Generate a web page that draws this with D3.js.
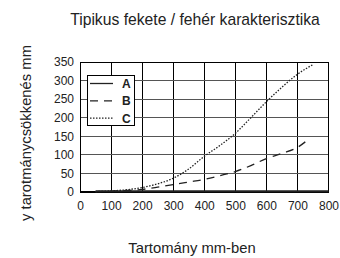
<!DOCTYPE html>
<html><head><meta charset="utf-8">
<script src="https://cdn.jsdelivr.net/npm/d3@7/dist/d3.min.js"></script>
<style>body{margin:0;background:#fff}svg{display:block}</style>
</head><body>
<script>
const title = "Tipikus fekete / fehér karakterisztika";
const xLabel = "Tartomány mm-ben";
const yLabel = "y tarotmánycsökkenés mm";
const xTicks = [0,100,200,300,400,500,600,700,800];
const yTicks = [0,50,100,150,200,250,300,350];
const seriesNames = ["A","B","C"];
const aX = [50,100,200,300,400,500,600,700,800];
const aY = [2,2,2,2,2,2,2,2,2];
const bX = [50,100,150,200,250,300,350,400,450,500,550,600,650,700,730];
const bY = [1,2,4,7,13,20,27,34,44,55,71,90,104,120,138];
const cX = [50,100,150,200,250,300,350,400,450,500,550,600,650,700,750];
const cY = [1,3,6,12,22,37,62,96,125,158,200,243,282,317,343];

const W=340,H=258;
const svg=d3.select("body").append("svg").attr("width",W).attr("height",H);
const x=d3.scaleLinear().domain([0,800]).range([80,328.5]);
const y=d3.scaleLinear().domain([0,350]).range([192,62]);
const font="Arial, 'Liberation Sans', sans-serif";

// grid
svg.append("g").selectAll("line").data(xTicks).join("line")
  .attr("x1",d=>x(d)).attr("x2",d=>x(d)).attr("y1",y(0)).attr("y2",y(350))
  .attr("stroke","#000").attr("stroke-width",1).attr("shape-rendering","crispEdges");
svg.append("g").selectAll("line").data(yTicks).join("line")
  .attr("x1",x(0)).attr("x2",x(800)).attr("y1",d=>y(d)).attr("y2",d=>y(d))
  .attr("stroke","#555").attr("stroke-width",1).attr("shape-rendering","crispEdges");
svg.append("rect").attr("x",x(0)).attr("y",y(350)).attr("width",x(800)-x(0)).attr("height",y(0)-y(350))
  .attr("fill","none").attr("stroke","#000").attr("stroke-width",1).attr("shape-rendering","crispEdges");
svg.append("line").attr("x1",x(0)).attr("x2",x(800)).attr("y1",y(0)).attr("y2",y(0)).attr("stroke","#000").attr("stroke-width",2);

// axes
const xa=svg.append("g").attr("transform",`translate(0,${y(0)})`).call(d3.axisBottom(x).tickValues(xTicks).tickSize(0).tickPadding(9));
const ya=svg.append("g").attr("transform",`translate(${x(0)},0)`).call(d3.axisLeft(y).tickValues(yTicks).tickSize(0).tickPadding(6));
[xa,ya].forEach(g=>{g.select(".domain").remove();g.selectAll("text").attr("font-family",font).attr("font-size",12).attr("fill","#222");});

const line=d3.line().x(d=>x(d[0])).y(d=>y(d[1])).curve(d3.curveMonotoneX);
svg.append("path").datum(d3.zip(aX,aY)).attr("d",line).attr("fill","none").attr("stroke","#222").attr("stroke-width",2);
svg.append("path").datum(d3.zip(bX,bY)).attr("d",line).attr("fill","none").attr("stroke","#222").attr("stroke-width",1.3).attr("stroke-dasharray","8,6");
svg.append("path").datum(d3.zip(cX,cY)).attr("d",line).attr("fill","none").attr("stroke","#222").attr("stroke-width",1.3).attr("stroke-dasharray","1.5,1.5");

// legend
const lg=svg.append("g");
lg.append("rect").attr("x",87).attr("y",75).attr("width",47).attr("height",50).attr("fill","#fff").attr("stroke","#000").attr("stroke-width",1).attr("shape-rendering","crispEdges");
const dashes=[null,"8,6","1.5,1.5"], widths=[1.3,1.3,1.3];
seriesNames.forEach((n,i)=>{
  const yy=83.5+i*17.3;
  const l=lg.append("line").attr("x1",90).attr("x2",113).attr("y1",yy).attr("y2",yy).attr("stroke","#222").attr("stroke-width",widths[i]);
  if(dashes[i]) l.attr("stroke-dasharray",dashes[i]);
  lg.append("text").attr("x",122).attr("y",yy+4.5).text(n).attr("font-family",font).attr("font-size",12).attr("font-weight","bold").attr("fill","#222");
});

svg.append("text").attr("x",195).attr("y",25).attr("text-anchor","middle").text(title).attr("font-family",font).attr("font-size",15.7).attr("fill","#222");
svg.append("text").attr("x",192).attr("y",253).attr("text-anchor","middle").text(xLabel).attr("font-family",font).attr("font-size",14.8).attr("fill","#222");
svg.append("text").attr("transform","translate(31,133) rotate(-90)").attr("text-anchor","middle").text(yLabel).attr("font-family",font).attr("font-size",14.8).attr("fill","#222");
</script>
</body></html>
